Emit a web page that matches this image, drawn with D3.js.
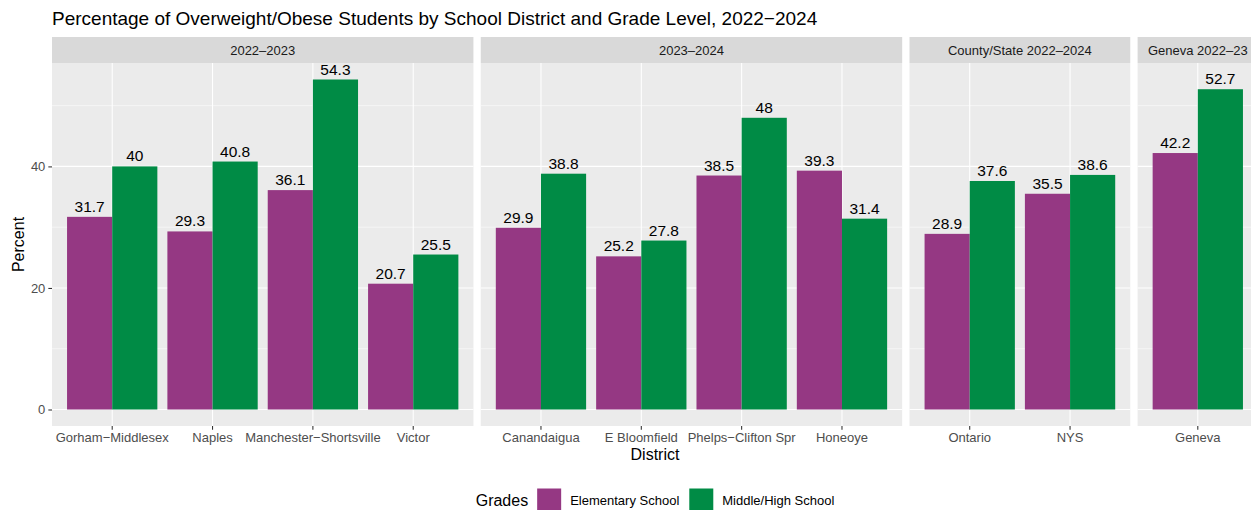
<!DOCTYPE html>
<html><head><meta charset="utf-8">
<script src="https://cdn.jsdelivr.net/npm/d3@7"></script>
<style>
html,body{margin:0;padding:0;background:#fff;}
svg{display:block;font-family:"Liberation Sans",Arial,Helvetica,sans-serif;}
</style></head>
<body><svg id="chart" width="1254" height="510"></svg>
<script>
const facets = ["2022–2023", "2023–2024", "County/State 2022–2024", "Geneva 2022–23"];
const districts = ["Gorham−Middlesex", "Naples", "Manchester−Shortsville", "Victor",
  "Canandaigua", "E Bloomfield", "Phelps−Clifton Spr", "Honeoye",
  "Ontario", "NYS", "Geneva"];
const districtFacet = ["2022–2023","2022–2023","2022–2023","2022–2023",
  "2023–2024","2023–2024","2023–2024","2023–2024",
  "County/State 2022–2024","County/State 2022–2024",
  "Geneva 2022–23"];
const elementary = [31.7, 29.3, 36.1, 20.7, 29.9, 25.2, 38.5, 39.3, 28.9, 35.5, 42.2];
const middleHigh = [40, 40.8, 54.3, 25.5, 38.8, 27.8, 48, 31.4, 37.6, 38.6, 52.7];
const grades = ["Elementary School", "Middle/High School"];
const gradeColors = ["#953883", "#008B45"];
const yTicks = [0, 20, 40];
const yMinor = [10, 30, 50];

const svg = d3.select("#chart");
const W = 1254, H = 510;
const plotL = 52, plotR = 1258, panelT = 63, panelB = 426, stripT = 37;
const gap = 7.33;
const tickFont = 13, titleFont = 16;

const rows = districts.map((d, i) => ({district: d, facet: districtFacet[i], values: [elementary[i], middleHigh[i]]}));
const allVals = elementary.concat(middleHigh);
const maxV = d3.max(allVals);
const y = d3.scaleLinear().domain([0 - maxV * 0.05, maxV * 1.05]).range([panelB, panelT]);

const counts = facets.map(f => rows.filter(r => r.facet === f).length);
const totalUnits = d3.sum(counts, c => c + 0.2);
const unit = (plotR - plotL - gap * (facets.length - 1)) / totalUnits;

// title
svg.append("text").attr("x", plotL).attr("y", 25).attr("font-size", 19).attr("fill", "#000")
  .text("Percentage of Overweight/Obese Students by School District and Grade Level, 2022−2024");

svg.append("defs").append("clipPath").attr("id", "vis")
  .append("rect").attr("x", 0).attr("y", 0).attr("width", 1251).attr("height", H);

let left = plotL;
facets.forEach((f, fi) => {
  const fr = rows.filter(r => r.facet === f);
  const pw = (fr.length + 0.2) * unit;
  const right = left + pw;
  const x = d3.scaleBand().domain(fr.map(r => r.district)).range([left, right])
    .paddingInner(0.1).paddingOuter(0.15);
  const xg = d3.scaleBand().domain(grades).range([0, x.bandwidth()]);
  const g = svg.append("g").attr("clip-path", "url(#vis)");
  // strip
  g.append("rect").attr("x", left).attr("y", stripT).attr("width", pw).attr("height", panelT - stripT).attr("fill", "#D9D9D9");
  g.append("text").attr("x", (left + right) / 2).attr("y", 54.6).attr("text-anchor", "middle")
    .attr("font-size", tickFont).attr("fill", "#1A1A1A").text(f);
  // panel bg
  g.append("rect").attr("x", left).attr("y", panelT).attr("width", pw).attr("height", panelB - panelT).attr("fill", "#EBEBEB");
  // gridlines
  yMinor.forEach(v => g.append("line").attr("x1", left).attr("x2", right).attr("y1", y(v)).attr("y2", y(v))
    .attr("stroke", "#fff").attr("stroke-width", 0.53));
  yTicks.forEach(v => g.append("line").attr("x1", left).attr("x2", right).attr("y1", y(v)).attr("y2", y(v))
    .attr("stroke", "#fff").attr("stroke-width", 1.07));
  fr.forEach(r => {
    const cx = x(r.district) + x.bandwidth() / 2;
    g.append("line").attr("x1", cx).attr("x2", cx).attr("y1", panelT).attr("y2", panelB)
      .attr("stroke", "#fff").attr("stroke-width", 1.07);
  });
  // bars
  fr.forEach(r => {
    r.values.forEach((v, gi) => {
      const bx = x(r.district) + xg(grades[gi]);
      g.append("rect").attr("x", bx).attr("y", y(v)).attr("width", xg.bandwidth())
        .attr("height", y(0) - y(v)).attr("fill", gradeColors[gi]);
      g.append("text").attr("x", bx + xg.bandwidth() / 2).attr("y", y(v) - 5)
        .attr("text-anchor", "middle").attr("font-size", 15.5).attr("fill", "#000").text(String(v));
    });
  });
  // x axis
  const ax = svg.append("g").attr("transform", `translate(0,${panelB})`)
    .call(d3.axisBottom(x).tickSizeOuter(0).tickSizeInner(3.67).tickPadding(3));
  ax.select(".domain").remove();
  ax.selectAll(".tick line").attr("stroke", "#333333").attr("stroke-width", 1.07);
  ax.selectAll(".tick text").attr("fill", "#4D4D4D").attr("font-size", tickFont)
    .attr("font-family", "Liberation Sans, Arial, sans-serif").attr("dy", "0.71em");
  if (fi === 0) {
    const ay = svg.append("g").attr("transform", `translate(${left},0)`)
      .call(d3.axisLeft(y).tickValues(yTicks).tickSizeOuter(0).tickSizeInner(3.67).tickPadding(3));
    ay.select(".domain").remove();
    ay.selectAll(".tick line").attr("stroke", "#333333").attr("stroke-width", 1.07);
    ay.selectAll(".tick text").attr("fill", "#4D4D4D").attr("font-size", tickFont)
      .attr("font-family", "Liberation Sans, Arial, sans-serif");
  }
  left = right + gap;
});

const midX = (plotL + plotR) / 2;
// axis titles
svg.append("text").attr("x", midX).attr("y", 460).attr("text-anchor", "middle")
  .attr("font-size", titleFont).attr("fill", "#000").text("District");
svg.append("text").attr("transform", `translate(23.5,${(panelT + panelB) / 2}) rotate(-90)`)
  .attr("text-anchor", "middle").attr("font-size", titleFont).attr("fill", "#000").text("Percent");

// legend
const lg = svg.append("g");
const gradesTitle = lg.append("text").attr("y", 505.5).attr("font-size", titleFont).attr("fill", "#000").text("Grades");
const keyW = 24, keyH = 23;
const tw = gradesTitle.node().getComputedTextLength();
const labelW = grades.map(gr => {
  const t = lg.append("text").attr("font-size", tickFont).text(gr);
  const w = t.node().getComputedTextLength(); t.remove(); return w;
});
const total = tw + 9 + d3.sum(labelW, w => keyW + 9 + w) + 10;
let lx = midX - total / 2;
gradesTitle.attr("x", lx);
lx += tw + 9;
grades.forEach((gr, i) => {
  lg.append("rect").attr("x", lx).attr("y", 500 - keyH / 2).attr("width", keyW).attr("height", keyH).attr("fill", gradeColors[i]);
  lx += keyW + 9;
  lg.append("text").attr("x", lx).attr("y", 505).attr("font-size", tickFont).attr("fill", "#000").text(gr);
  lx += labelW[i] + 10;
});
</script></body></html>
